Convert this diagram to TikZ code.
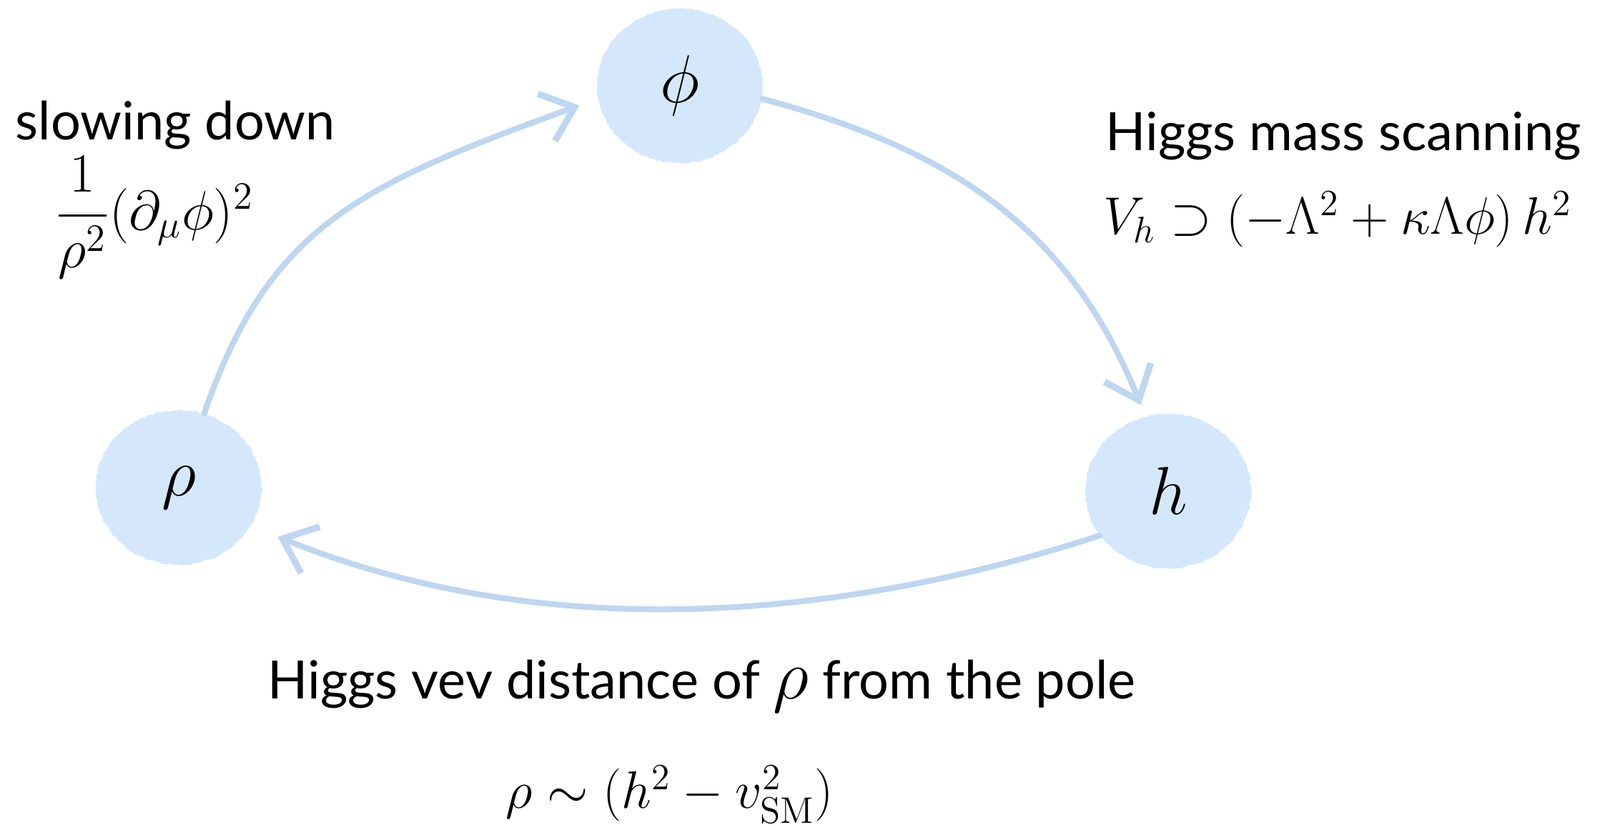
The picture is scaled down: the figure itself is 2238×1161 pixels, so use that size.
\RequirePackage{fix-cm}
\documentclass[tikz,border=0pt]{standalone}
\usepackage{amsmath}
\usepackage[no-math]{fontspec}
\setmainfont{Lato}
\usetikzlibrary{arrows.meta,shapes.geometric,decorations.pathmorphing}
\definecolor{nodefill}{RGB}{213,232,251}
\definecolor{arrowc}{RGB}{190,214,240}
\begin{document}
\begin{tikzpicture}[x=0.01cm,y=0.01cm,
  blob/.style={ellipse,fill=nodefill,minimum width=2.32cm,minimum height=2.16cm,inner sep=0pt,font=\fontsize{27}{32}\selectfont,
    decorate,decoration={random steps,segment length=1.2pt,amplitude=0.3pt}},
  flow/.style={draw=arrowc,line width=2.3pt,line cap=round,-{Straight Barb[length=0.42cm,width=0.7cm,line width=2.6pt]}},
  lbl/.style={inner sep=0pt,font=\fontsize{21}{25}\selectfont}]
\useasboundingbox (0,0) rectangle (2238,1161);
\node[blob] (phi) at (951,1041) {$\phi$};
\node[blob] (h) at (1634,474) {$h$};
\node[blob] (rho) at (250,479) {$\rho$};
\draw[flow,shorten >=0.27cm] (rho.71) .. controls +(71:280) and +(200:350) .. (phi.189);
\draw[flow,shorten >=0.17cm] (phi.-9) .. controls +(-15:280) and +(112:280) .. (h.107);
\draw[flow,shorten >=0.4cm] (h.213) to[out=198,in=-22,looseness=0.9] (rho.-28);
\node[lbl,anchor=base west] (t1) at (21,965) {slowing down};
\node[lbl,font=\fontsize{22}{26}\selectfont] (f1) at (216,857) {$\dfrac{1}{\rho^2}(\partial_\mu\phi)^2$};
\node[lbl,anchor=base west] (t2) at (1546,950) {Higgs mass scanning};
\node[lbl,anchor=base west] (f2) at (1543,833) {$V_h\supset(-\Lambda^2+\kappa\Lambda\phi)\,h^2$};
\node[lbl,anchor=base west] (t3) at (374,183) {Higgs vev distance of {\fontsize{28}{28}\selectfont$\rho$} from the pole};
\node[lbl,anchor=base west] (f3) at (707,30) {$\rho\sim(h^2-v_{\mathrm{SM}}^2)$};
\end{tikzpicture}
\end{document}
